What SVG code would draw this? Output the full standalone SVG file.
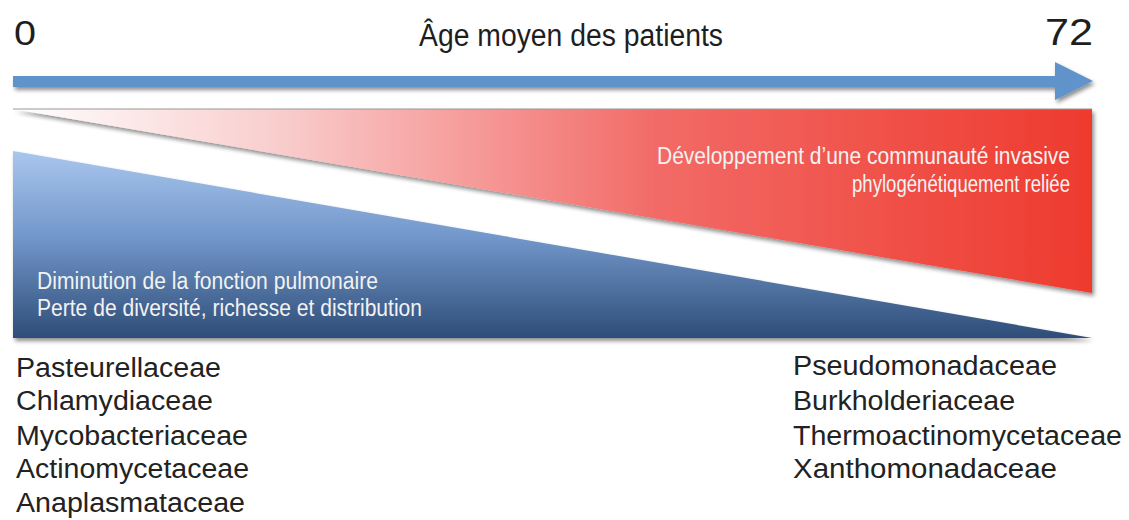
<svg xmlns="http://www.w3.org/2000/svg" width="1129" height="520" viewBox="0 0 1129 520">
  <defs>
    <linearGradient id="redGrad" x1="13" y1="0" x2="1092" y2="0" gradientUnits="userSpaceOnUse">
      <stop offset="0" stop-color="#ffffff"/>
      <stop offset="0.25" stop-color="#f9cccc"/>
      <stop offset="0.6" stop-color="#f26a66"/>
      <stop offset="1" stop-color="#ee3a2e"/>
    </linearGradient>
    <linearGradient id="blueGrad" x1="0" y1="151" x2="0" y2="338" gradientUnits="userSpaceOnUse">
      <stop offset="0" stop-color="#a9c6ee"/>
      <stop offset="0.45" stop-color="#7398cb"/>
      <stop offset="1" stop-color="#2e4d78"/>
    </linearGradient>
    <filter id="shadow" x="-5%" y="-10%" width="110%" height="130%">
      <feGaussianBlur in="SourceAlpha" stdDeviation="2"/>
      <feOffset dx="2" dy="3" result="b"/>
      <feComponentTransfer><feFuncA type="linear" slope="0.45"/></feComponentTransfer>
      <feMerge><feMergeNode/><feMergeNode in="SourceGraphic"/></feMerge>
    </filter>
    <style>
      .lbl { font-family: "Liberation Sans", Arial, sans-serif; fill: #1e1e1e; }
      .inner { font-family: "Liberation Sans", Arial, sans-serif; fill: #f2f2f2; font-size: 23px; }
      .fam { font-family: "Liberation Sans", Arial, sans-serif; fill: #222222; font-size: 27px; }
    </style>
  </defs>

  <rect width="1129" height="520" fill="#ffffff"/>

  <g id="axis">
    <text class="lbl" x="14" y="45" font-size="35" textLength="22" lengthAdjust="spacingAndGlyphs">0</text>
    <text class="lbl" x="419" y="46" font-size="31" textLength="304" lengthAdjust="spacingAndGlyphs">Âge moyen des patients</text>
    <text class="lbl" x="1045" y="45" font-size="37" textLength="48" lengthAdjust="spacingAndGlyphs">72</text>
  </g>

  <g id="connectors">
    <path d="M13,76 L1055,76 L1055,62 L1093,81 L1055,100 L1055,87 L13,87 Z" fill="#5f93c9" filter="url(#shadow)"/>
  </g>

  <g id="red-wedge">
    <polygon points="13,109 1092,109 1092,293" fill="url(#redGrad)" filter="url(#shadow)"/>
    <line x1="13" y1="109" x2="1092" y2="109" stroke="#9a9a9a" stroke-width="1"/>
    <text class="inner" x="1070" y="164" text-anchor="end" textLength="413" lengthAdjust="spacingAndGlyphs">Développement d’une communauté invasive</text>
    <text class="inner" x="1070" y="192" text-anchor="end" textLength="218" lengthAdjust="spacingAndGlyphs">phylogénétiquement reliée</text>
  </g>

  <g id="blue-wedge">
    <polygon points="13,151 1092,338 13,338" fill="url(#blueGrad)" filter="url(#shadow)"/>
    <text class="inner" x="37" y="289" textLength="341" lengthAdjust="spacingAndGlyphs">Diminution de la fonction pulmonaire</text>
    <text class="inner" x="37" y="316" textLength="385" lengthAdjust="spacingAndGlyphs">Perte de diversité, richesse et distribution</text>
  </g>

  <g id="left-families">
    <text class="fam" x="16" y="377" textLength="205" lengthAdjust="spacingAndGlyphs">Pasteurellaceae</text>
    <text class="fam" x="16" y="410" textLength="197" lengthAdjust="spacingAndGlyphs">Chlamydiaceae</text>
    <text class="fam" x="16" y="445" textLength="232" lengthAdjust="spacingAndGlyphs">Mycobacteriaceae</text>
    <text class="fam" x="16" y="478" textLength="233" lengthAdjust="spacingAndGlyphs">Actinomycetaceae</text>
    <text class="fam" x="16" y="512" textLength="229" lengthAdjust="spacingAndGlyphs">Anaplasmataceae</text>
  </g>

  <g id="right-families">
    <text class="fam" x="793" y="375" textLength="264" lengthAdjust="spacingAndGlyphs">Pseudomonadaceae</text>
    <text class="fam" x="793" y="410" textLength="222" lengthAdjust="spacingAndGlyphs">Burkholderiaceae</text>
    <text class="fam" x="793" y="445" textLength="329" lengthAdjust="spacingAndGlyphs">Thermoactinomycetaceae</text>
    <text class="fam" x="793" y="478" textLength="264" lengthAdjust="spacingAndGlyphs">Xanthomonadaceae</text>
  </g>
</svg>
